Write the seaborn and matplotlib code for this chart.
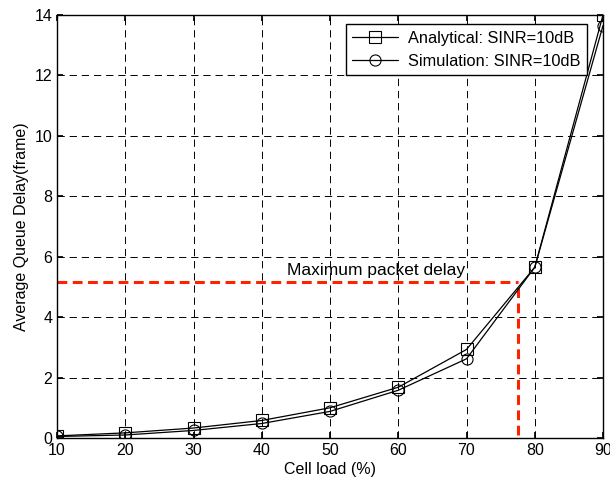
import matplotlib
matplotlib.use("Agg")
import matplotlib.pyplot as plt
import seaborn as sns
import pandas as pd

cell_load = [10, 20, 30, 40, 50, 60, 70, 80, 90]
analytical = [0.07, 0.17, 0.33, 0.58, 1.00, 1.68, 2.93, 5.65, 14.0]
simulation = [0.05, 0.10, 0.25, 0.48, 0.88, 1.58, 2.62, 5.65, 13.65]
max_delay_load = 77.6
max_delay_value = 5.15

sns.set_theme(style="white")
plt.rcParams['font.family'] = ['Liberation Sans', 'DejaVu Sans']
plt.rcParams['text.color'] = 'black'
plt.rcParams['axes.labelcolor'] = 'black'
plt.rcParams['xtick.color'] = 'black'
plt.rcParams['ytick.color'] = 'black'

fig = plt.figure(figsize=(6.1, 4.82), dpi=100)
ax = fig.add_axes([57/610, 1-438/482, (603-57)/610, (438-15)/482])

df = pd.DataFrame({"x": cell_load * 2,
                   "y": analytical + simulation,
                   "s": ["Analytical: SINR=10dB"] * len(cell_load) + ["Simulation: SINR=10dB"] * len(cell_load)})
sns.lineplot(data=df, x="x", y="y", hue="s", style="s",
             palette=["black", "black"], markers=["s", "o"], dashes=False,
             markersize=8, markerfacecolor="none", markeredgecolor="black",
             markeredgewidth=0.8, linewidth=0.9, ax=ax)

ax.plot([cell_load[0], max_delay_load], [max_delay_value, max_delay_value],
        color="#ff2200", linestyle=(0, (3.2, 1.8)), linewidth=2.2, zorder=1)
ax.plot([max_delay_load, max_delay_load], [0.1, max_delay_value],
        color="#ff2200", linestyle=(0, (3.2, 1.8)), linewidth=2.2, zorder=1)
ax.text(43.7, 5.56, "Maximum packet delay", fontsize=12.5, va="center", ha="left", color="black")

ax.set_xlim(10, 90)
ax.set_ylim(0, 14)
ax.set_xticks(cell_load)
ax.set_yticks([0, 2, 4, 6, 8, 10, 12, 14])
ax.grid(True, color="black", linestyle=(0, (7.5, 5)), linewidth=0.7)
ax.set_axisbelow(True)
for sp in ax.spines.values():
    sp.set_color("black")
    sp.set_linewidth(1.0)
ax.tick_params(axis="both", labelsize=11.5, colors="black", direction="in", length=4,
               top=True, right=True, bottom=True, left=True)
ax.set_xlabel("Cell load (%)", fontsize=11.5, labelpad=3, color="black")
ax.set_ylabel("Average Queue Delay(frame)", fontsize=11.5, color="black")

leg = ax.legend(loc="upper right", bbox_to_anchor=(1 - 16/546, 1 - 9/423), fontsize=11.8, frameon=True,
                fancybox=False, edgecolor="black", framealpha=1, handlelength=2.8,
                handletextpad=0.6, borderpad=0.4, labelspacing=0.5, borderaxespad=0)
leg.get_frame().set_linewidth(1.0)
for t in leg.get_texts():
    t.set_color("black")

fig.savefig("out.png", dpi=100)
